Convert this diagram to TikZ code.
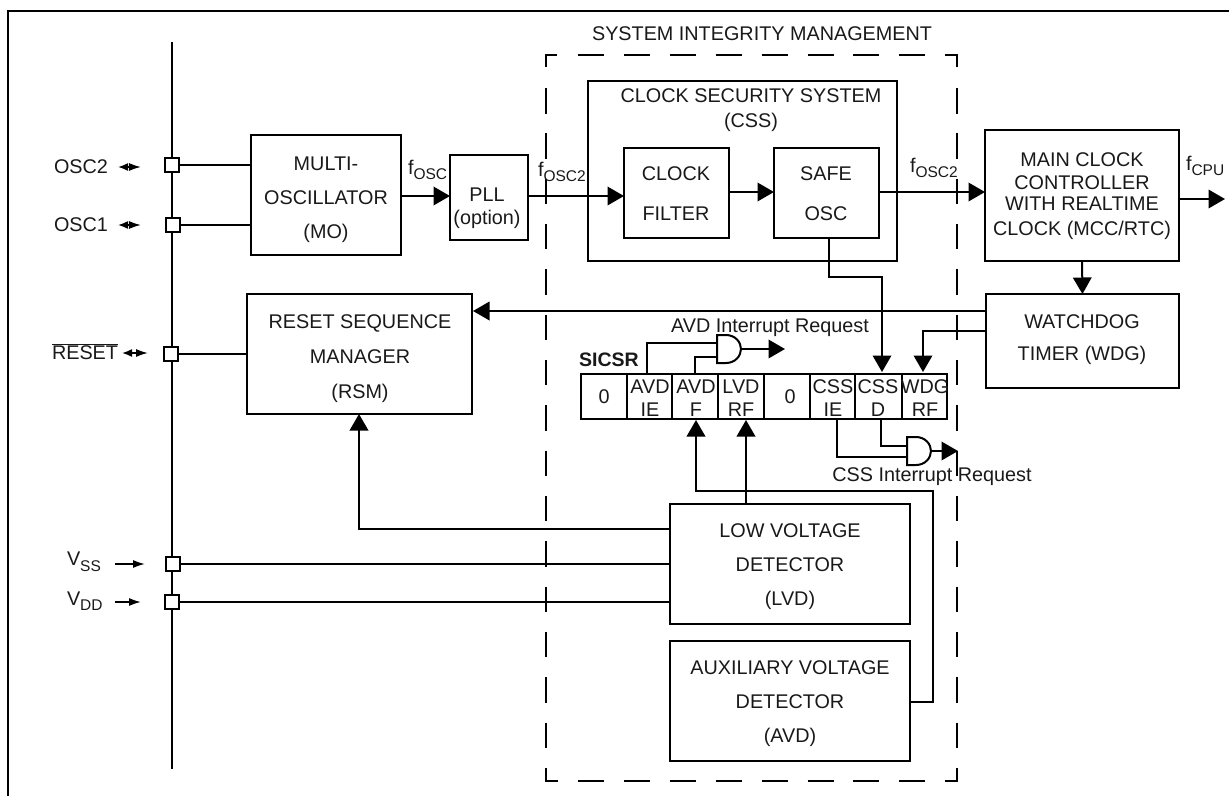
\documentclass[tikz,border=0pt]{standalone}
\usepackage{fontspec}
\setmainfont{Liberation Sans}
\usetikzlibrary{arrows.meta}
\definecolor{ink}{gray}{0.1}
\newcommand{\lowtxt}[1]{\raisebox{-0.28em}{\fontsize{15.5}{15.5}\selectfont #1}}
\newcommand{\regbox}[6][]{% name x1 y1 x2 y2
  \pgfmathsetmacro{\bw}{#5-#3}\pgfmathsetmacro{\bh}{#6-#4}
  \pgfmathsetmacro{\bx}{(#5+#3)/2}\pgfmathsetmacro{\by}{(#6+#4)/2}
  \node[blockbox,#1,minimum width=\bw pt,minimum height=\bh pt] (#2) at (\bx,\by) {};}
\tikzset{
  x=1pt,y=-1pt,
  wire/.style={line width=2pt,black},
  conn/.style={wire,-{Triangle[length=16.5pt,width=18.5pt]}},
  tiny arrow/.style={line width=1.6pt,-{Latex[length=12pt,width=8pt]}},
  tiny both/.style={line width=1.6pt,{Latex[length=10pt,width=8pt]}-{Latex[length=12pt,width=8pt]}},
  blockbox/.style={draw,line width=2pt,inner sep=0pt,outer sep=0pt},
  padbox/.style={draw,line width=2pt,inner sep=0pt,outer sep=0pt,minimum size=14.5pt,fill=white},
  lbl/.style={inner sep=0pt,outer sep=0pt,text=ink,font=\fontsize{19.8}{19.8}\selectfont,align=center},
  ls/.style={font=\fontsize{19.8}{#1}\selectfont},
  capline/.style={lbl,text height=14pt,text depth=0pt},
  dashline/.style={line width=2pt,dash pattern=on 26pt off 19.9pt},
  dashside/.style={line width=2pt,dash pattern=on 25.5pt off 19.83pt},
  gatebody/.style={line width=2pt,fill=white},
}
\begin{document}
\begin{tikzpicture}
\useasboundingbox (0,0) rectangle (1229,796);
% frame
\coordinate (fTL) at (8,10.5); \coordinate (fTR) at (1229,10.5); \coordinate (fBL) at (8,796);
\draw[wire] (fBL) -- (fTL) -- (fTR);
% bus
\coordinate (busT) at (172,42); \coordinate (busB) at (172,768.5);
\draw[wire] (busT) -- (busB);
% system integrity dashed boundary
\coordinate (dTL) at (546,55); \coordinate (dTR) at (957,55); \coordinate (dBL) at (546,781); \coordinate (dBR) at (957,781);
\draw[line width=2pt] ([yshift=-12pt]dTL) -- (dTL) -- ([xshift=11pt]dTL);
\draw[line width=2pt] ([xshift=-12pt]dTR) -- (dTR) -- ([yshift=-12pt]dTR);
\draw[line width=2pt] ([yshift=13pt]dBL) -- (dBL) -- ([xshift=12pt]dBL);
\draw[line width=2pt] ([xshift=-12pt]dBR) -- (dBR) -- ([yshift=13pt]dBR);
\draw[dashline] ([xshift=32pt]dTL) -- ([xshift=-13pt]dTR);
\draw[dashline] ([xshift=32pt]dBL) -- ([xshift=-13pt]dBR);
\draw[dashside] ([yshift=-33pt]dTL) -- ([yshift=13pt]dBL);
\draw[dashside] ([yshift=-33pt]dTR) -- ([yshift=13pt]dBR);
\node[capline] (simT) at (762,33) {SYSTEM INTEGRITY MANAGEMENT};
% blocks
\regbox{mo}{251}{135}{401}{255}
\regbox{pll}{450}{155}{528}{240}
\regbox{css}{588}{81}{897}{261}
\regbox{filter}{624}{148}{729}{238}
\regbox{safe}{774}{148}{879}{238}
\regbox{mcc}{985}{130}{1179}{261}
\regbox{wdg}{986}{294}{1179}{388}
\regbox{rsm}{247}{294}{472}{414}
\regbox{lvd}{670}{504}{910}{624}
\regbox{avd}{670}{641}{910}{761}
% block text
\node[lbl,ls=34] (moT) at (326,199.5) {MULTI-\\OSCILLATOR\\(MO)};
\node[lbl,ls=23] (pllT) at (487,208) {PLL\\(option)};
\node[lbl,ls=25] (cssT) at (751,110) {CLOCK SECURITY SYSTEM\\(CSS)};
\node[lbl,ls=40] (filterT) at (676,194) {CLOCK\\FILTER};
\node[lbl,ls=40] (safeT) at (826,194) {SAFE\\OSC};
\node[lbl,ls=23] (mccT) at (1082,196) {MAIN CLOCK\\CONTROLLER\\[-2pt]WITH REALTIME\\[2pt]CLOCK (MCC/RTC)};
\node[lbl,ls=32] (wdgT) at (1082,340) {WATCHDOG\\TIMER (WDG)};
\node[lbl,ls=35] (rsmT) at (360,359) {RESET SEQUENCE\\MANAGER\\(RSM)};
\node[lbl,ls=34] (lvdT) at (790,567) {LOW VOLTAGE\\DETECTOR\\(LVD)};
\node[lbl,ls=34] (avdT) at (790,704) {AUXILIARY VOLTAGE\\DETECTOR\\(AVD)};
% pads
\node[padbox] (pO2) at (172,165) {};
\node[padbox] (pO1) at (173,225) {};
\node[padbox] (pR) at (171,354) {};
\node[padbox] (pS) at (173,564) {};
\node[padbox] (pD) at (172,602) {};
% pin labels
\node[capline,anchor=west] (tO2) at (54,166) {OSC2};
\node[capline,anchor=west] (tO1) at (54,224) {OSC1};
\node[capline,anchor=west] (tR) at (52,352) {$\overline{\hbox{RESET}}$};
\node[lbl,anchor=west] (tS) at (67,562) {V\lowtxt{SS}};
\node[lbl,anchor=west] (tD) at (67,601) {V\lowtxt{DD}};
\coordinate (aO2a) at (118,167); \coordinate (aO2b) at (141,167);
\coordinate (aO1a) at (118,225); \coordinate (aO1b) at (141,225);
\coordinate (aRa) at (122,353); \coordinate (aRb) at (148,353);
\coordinate (aSa) at (115,564); \coordinate (aSb) at (145,564);
\coordinate (aDa) at (115,602); \coordinate (aDb) at (141,602);
\draw[tiny both] (aO2a) -- (aO2b);
\draw[tiny both] (aO1a) -- (aO1b);
\draw[tiny both] (aRa) -- (aRb);
\draw[tiny arrow] (aSa) -- (aSb);
\draw[tiny arrow] (aDa) -- (aDb);
% pad wires
\draw[wire] (pO2.east) -- (mo.west |- pO2.east);
\draw[wire] (pO1.east) -- (mo.west |- pO1.east);
\draw[wire] (pR.east) -- (rsm.west |- pR.east);
\draw[wire] (pS.east) -- (lvd.west |- pS.east);
\draw[wire] (pD.east) -- (lvd.west |- pD.east);
% clock path
\draw[conn] (mo.east |- 0,196) -- (pll.west |- 0,196);
\draw[conn] (pll.east |- 0,196) -- (filter.west |- 0,196);
\draw[conn] (filter.east |- 0,192) -- (safe.west |- 0,192);
\draw[conn] (safe.east |- 0,192) -- (mcc.west |- 0,192);
\coordinate (cpuOut) at (1225,199);
\draw[conn] (mcc.east |- cpuOut) -- (cpuOut);
\node[lbl,anchor=west] (fa) at (408,170) {f\lowtxt{OSC}};
\node[lbl,anchor=west] (fb) at (538,172) {f\lowtxt{OSC2}};
\node[lbl,anchor=west] (fc) at (910,168) {f\lowtxt{OSC2}};
\node[lbl,anchor=west] (fd) at (1186,166) {f\lowtxt{CPU}};
\draw[conn] (mcc.south) -- (wdg.north);
\coordinate (rsmIn) at (473,311);
\draw[conn] (wdg.west |- rsmIn) -- (rsmIn);
% register
\regbox{r0}{581}{374}{627}{419}
\regbox{r1}{627}{374}{672}{419}
\regbox{r2}{672}{374}{718}{419}
\regbox{r3}{718}{374}{764}{419}
\regbox{r4}{764}{374}{810}{419}
\regbox{r5}{810}{374}{855}{419}
\regbox{r6}{855}{374}{902}{419}
\regbox{r7}{902}{374}{947}{419}
\node[lbl] (r0T) at (604,397) {0};
\node[lbl,ls=23] (r1T) at (650,398.5) {AVD\\IE};
\node[lbl,ls=23] (r2T) at (696,398.5) {AVD\\F};
\node[lbl,ls=23] (r3T) at (741,398.5) {LVD\\RF};
\node[lbl] (r4T) at (790,397) {0};
\node[lbl,ls=23] (r5T) at (833,398.5) {CSS\\IE};
\node[lbl,ls=23] (r6T) at (878,398.5) {CSS\\D};
\node[lbl,ls=23] (r7T) at (925,398.5) {WDG\\RF};
\node[lbl,font=\fontsize{19.5}{19.5}\selectfont\bfseries] (sicsr) at (609,360) {SICSR};
% register inputs
\coordinate (safeB) at (829,238); \coordinate (cssdIn) at (882,372); \coordinate (wdgrfIn) at (923,372);
\draw[conn] (safeB) -- (829,277) -- (882,277) -- (cssdIn);
\draw[conn] (wdg.west |- 0,331) -- (923,331) -- (wdgrfIn);
\coordinate (afIn) at (696,420); \coordinate (lrIn) at (746,420);
\draw[conn] (lvd.north -| lrIn) -- (lrIn);
\draw[conn] (avd.east |- 0,702) -- (933,702) -- (933,491) -- (696,491) -- (afIn);
\draw[conn] (lvd.west |- 0,529) -- (359,529) -- (rsm.south -| 359,0);
% AVD gate
\coordinate (ga1) at (717,343); \coordinate (ga2) at (717,357); \coordinate (gaO) at (741,349); \coordinate (gaTip) at (785,349);
\draw[wire] (647,374) -- (647,343) -- (ga1);
\draw[wire] (695,374) -- (695,357) -- (ga2);
\draw[gatebody] (717,335) -- (726,335) .. controls (735,335) and (741,342) .. (gaO) .. controls (741,356) and (735,363) .. (726,363) -- (717,363) -- cycle;
\draw[conn] (gaO) -- (gaTip);
\node[capline] (avdReq) at (770,325) {AVD Interrupt Request};
% CSS gate
\coordinate (gc1) at (907,446); \coordinate (gc2) at (907,457); \coordinate (gcO) at (931,451); \coordinate (gcTip) at (958,451);
\draw[wire] (881,419) -- (881,446) -- (gc1);
\draw[wire] (837,419) -- (837,457) -- (gc2);
\draw[gatebody] (907,437) -- (916,437) .. controls (925,437) and (931,444) .. (gcO) .. controls (931,458) and (925,465) .. (916,465) -- (907,465) -- cycle;
\draw[conn] (gcO) -- (gcTip);
\node[capline] (cssReq) at (932,474) {CSS Interrupt Request};
\end{tikzpicture}
\end{document}
